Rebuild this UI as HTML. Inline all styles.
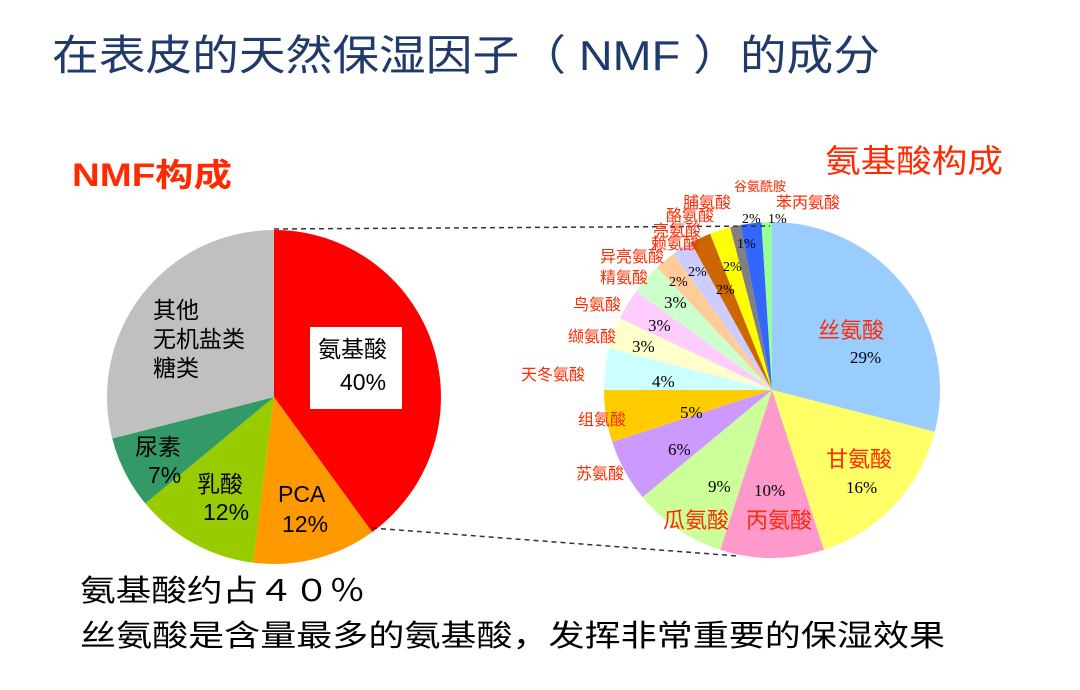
<!DOCTYPE html>
<html><head><meta charset="utf-8"><style>
body{margin:0;background:#fff;}
svg text{font-family:"Liberation Sans","Noto Sans CJK SC",sans-serif;}
.s{font-family:"Liberation Serif","Noto Serif CJK SC",serif !important;}
</style></head><body>
<svg id="c" width="1080" height="685" xmlns="http://www.w3.org/2000/svg">
<text x="52" y="70" font-size="42" fill="#1f3a6b" textLength="828" lengthAdjust="spacingAndGlyphs">在表皮的天然保湿因子（ NMF ）的成分</text>
<text x="72" y="186" font-size="32" fill="#ff2a00" font-weight="bold" textLength="160" lengthAdjust="spacingAndGlyphs">NMF构成</text>
<text x="825" y="172" font-size="32" fill="#ff2a00" textLength="178" lengthAdjust="spacingAndGlyphs">氨基酸构成</text>
<g id="lp"></g><g id="rp"></g>
<line x1="274" y1="229" x2="770" y2="226" stroke="#333" stroke-dasharray="5,4" stroke-width="1.5"/>
<line x1="372" y1="528" x2="738" y2="556" stroke="#333" stroke-dasharray="5,4" stroke-width="1.5"/>
<rect x="310" y="327" width="92" height="82" fill="#fff"/>
<g font-size="23" fill="#000">
<text x="318" y="357">氨基酸</text><text x="340" y="390">40%</text>
<text x="278" y="502">PCA</text><text x="282" y="532">12%</text>
<text x="197" y="492">乳酸</text><text x="203" y="520">12%</text>
<text x="135" y="455">尿素</text><text x="148" y="483">7%</text>
<text x="153" y="318">其他</text><text x="153" y="347">无机盐类</text><text x="153" y="376">糖类</text>
</g>
<g font-size="22" fill="#ff2a00">
<text x="818" y="338">丝氨酸</text><text x="826" y="467">甘氨酸</text>
<text x="746" y="528">丙氨酸</text><text x="663" y="528">瓜氨酸</text>
</g>
<g font-size="16" fill="#ff2a00">
<text x="576" y="479">苏氨酸</text><text x="578" y="425">组氨酸</text>
<text x="521" y="380">天冬氨酸</text><text x="568" y="342">缬氨酸</text>
<text x="573" y="310">鸟氨酸</text><text x="600" y="283">精氨酸</text>
<text x="600" y="262">异亮氨酸</text><text x="651" y="249">赖氨酸</text>
<text x="653" y="236">亮氨酸</text><text x="666" y="221">酪氨酸</text>
<text x="683" y="208">脯氨酸</text><text x="776" y="208">苯丙氨酸</text>
</g>
<text x="734" y="191" font-size="13" fill="#ff2a00">谷氨酰胺</text>
<g class="s" font-size="17" fill="#000">
<text class="s" x="850" y="363">29%</text><text class="s" x="846" y="493">16%</text>
<text class="s" x="754" y="496">10%</text><text class="s" x="708" y="492">9%</text>
<text class="s" x="668" y="455">6%</text><text class="s" x="680" y="418">5%</text>
<text class="s" x="652" y="387">4%</text><text class="s" x="632" y="352">3%</text>
<text class="s" x="648" y="331">3%</text><text class="s" x="664" y="308">3%</text>
<text class="s" x="669" y="286" font-size="14">2%</text><text class="s" x="688" y="276" font-size="14">2%</text>
<text class="s" x="716" y="294" font-size="14">2%</text><text class="s" x="723" y="271" font-size="14">2%</text>
<text class="s" x="737" y="248" font-size="14">1%</text><text class="s" x="742" y="223" font-size="14">2%</text>
<text class="s" x="768" y="223" font-size="14">1%</text>
</g>
<text x="80" y="601" font-size="30" fill="#000" textLength="285" lengthAdjust="spacingAndGlyphs">氨基酸约占４０％</text>
<text x="80" y="646" font-size="30" fill="#000" textLength="865" lengthAdjust="spacingAndGlyphs">丝氨酸是含量最多的氨基酸，发挥非常重要的保湿效果</text>
</svg>
<script>
function pie(g,cx,cy,r,data){var a=0,s='';data.forEach(function(d){var a2=a+d[0]*3.6;var r1=a*Math.PI/180,r2=a2*Math.PI/180;
var x1=cx+r*Math.sin(r1),y1=cy-r*Math.cos(r1),x2=cx+r*Math.sin(r2),y2=cy-r*Math.cos(r2);
s+='<path d="M'+cx+','+cy+' L'+x1+','+y1+' A'+r+','+r+' 0 '+(a2-a>180?1:0)+' 1 '+x2+','+y2+' Z" fill="'+d[1]+'"/>';a=a2;});
document.getElementById(g).innerHTML=s;}
pie('lp',274,397,167,[[40,'#ff0000'],[12,'#ff9900'],[12,'#99cc00'],[7,'#339966'],[29,'#c0c0c0']]);
pie('rp',772,390,168,[[29,'#99ccff'],[16,'#ffff66'],[10,'#ff99cc'],[9,'#ccff99'],[6,'#cc99ff'],[5,'#ffcc00'],[4,'#ccffff'],[3,'#ffffcc'],[3,'#ffccff'],[3,'#ccffcc'],[2,'#ffcc99'],[2,'#ccccff'],[2,'#cc6600'],[2,'#ffff00'],[1,'#808080'],[2,'#3366ff'],[1,'#99ff99']]);
</script>
</body></html>
